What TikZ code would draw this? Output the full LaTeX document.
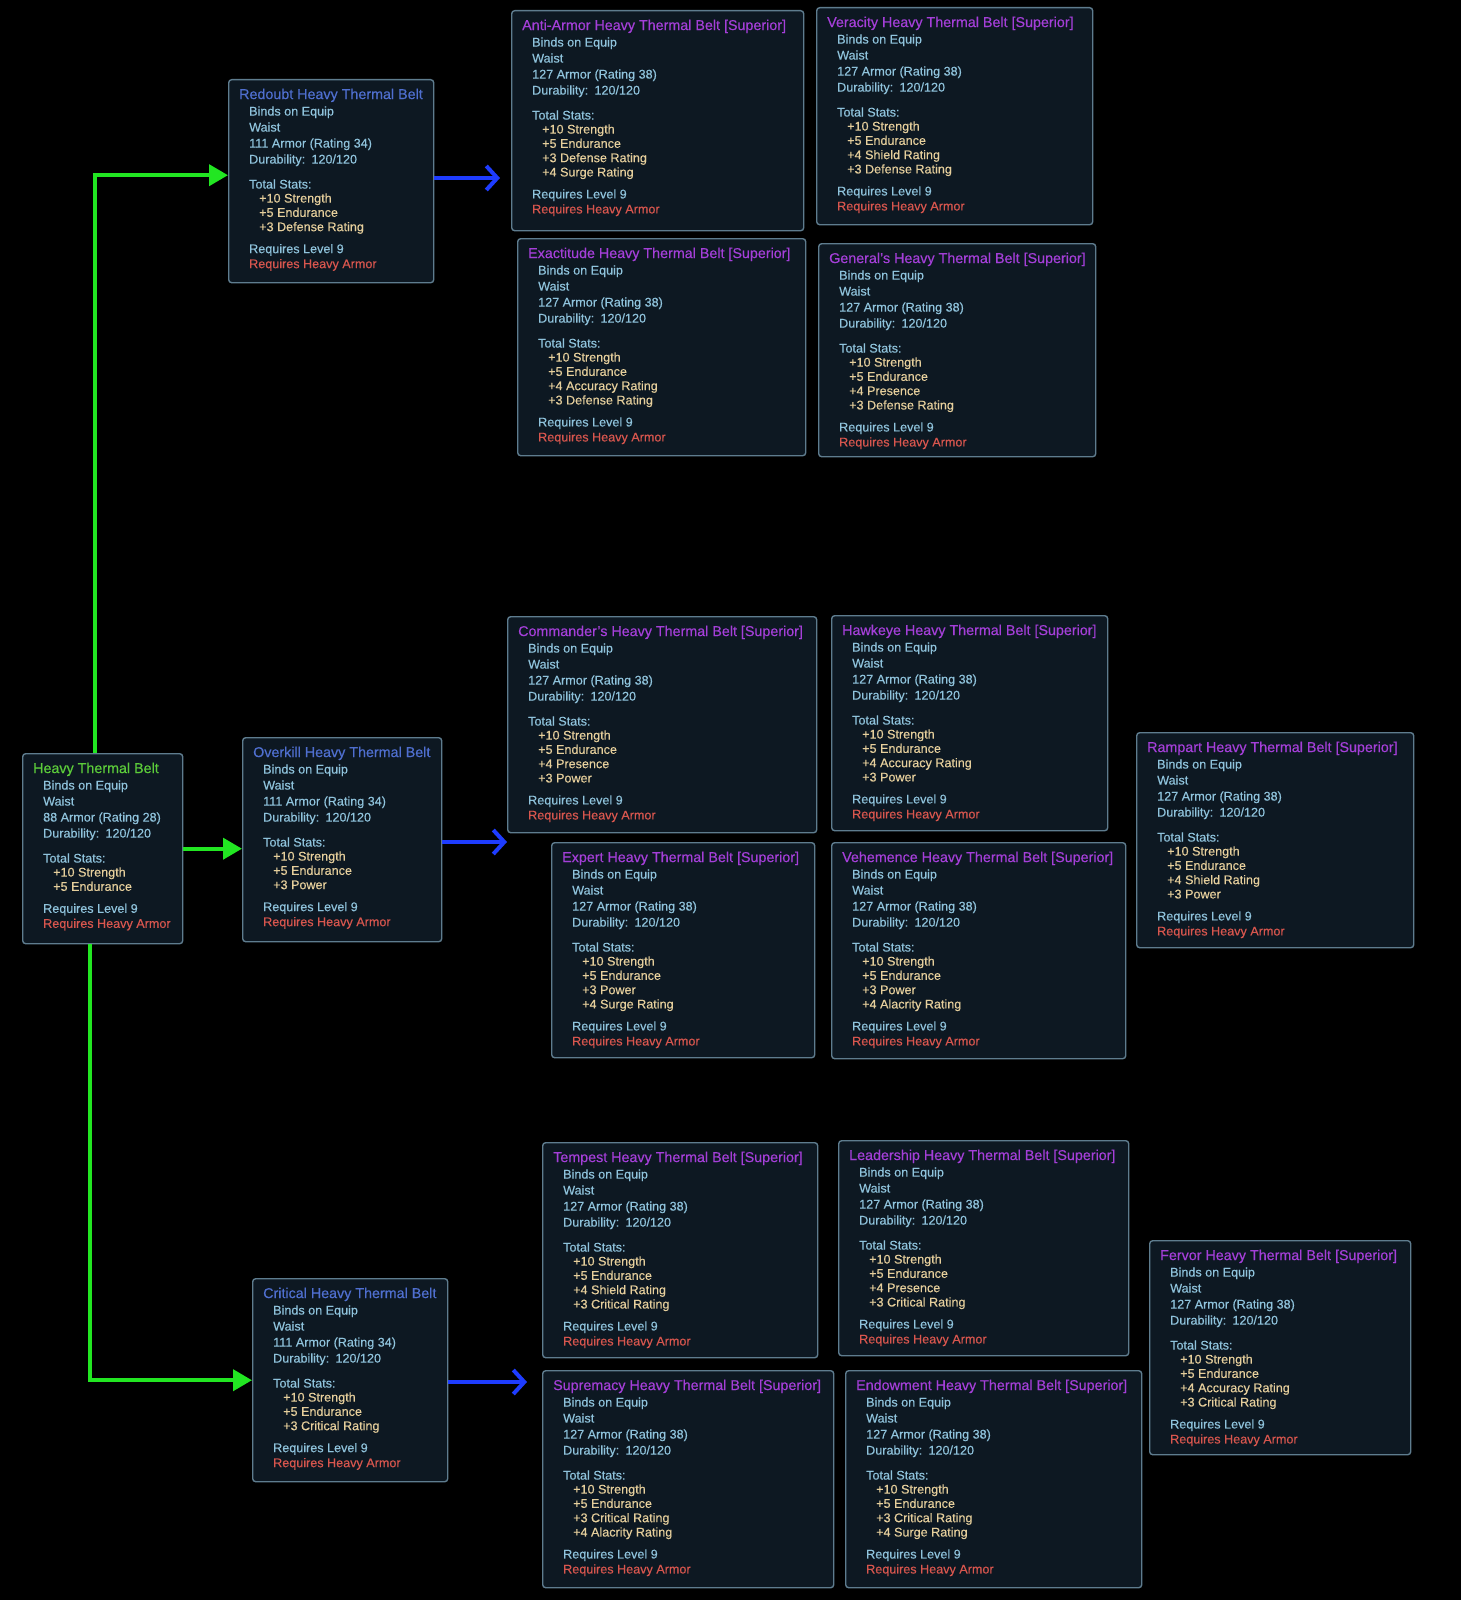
\documentclass[tikz,border=0pt]{standalone}
\usepackage{fontspec}
\setmainfont{Liberation Sans}[FakeBold=0.35]
\usetikzlibrary{arrows.meta,calc}
\definecolor{boxfill}{HTML}{0D1822}
\definecolor{boxborder}{HTML}{5E7C8E}
\definecolor{titlegreen}{HTML}{5CCC3A}
\definecolor{titleblue}{HTML}{4F6FCF}
\definecolor{titlepurple}{HTML}{A43FD8}
\definecolor{bodyc}{HTML}{8FC3DC}
\definecolor{statc}{HTML}{E6CF9C}
\definecolor{reqc}{HTML}{D8564E}
\definecolor{greenarrow}{HTML}{22E622}
\definecolor{bluearrow}{HTML}{1E3CFF}
\tikzset{
  beltbg/.style={draw=boxborder, fill=boxfill, line width=1.4pt, rounded corners=3pt, inner sep=0pt, anchor=north west},
  belttext/.style={anchor=north west, align=left, inner sep=0pt, font=\fontsize{12.6}{15}\selectfont, text=bodyc},
  garrow/.style={draw=greenarrow, line width=4pt, line join=miter, -{Triangle[length=19pt,width=21pt]}},
  barrow/.style={draw=bluearrow, line width=4pt, -{Straight Barb[length=11pt,width=24pt,line width=4pt]}}
}
\newcommand\st[1]{\hspace*{20pt}{\color{statc}#1}}
\newcommand\statbr{\\[-0.7pt]}
\newcommand\beltbox[9]{%
  \node[beltbg, minimum width=#4pt, minimum height=#5pt] (#1) at (#2,#3) {};
  \node[belttext] (#1-txt) at ($(#1.north west)+(11,9.5)$) {%
    {\fontsize{14.3}{15}\selectfont\color{#6}#7}\\[1.5pt]
    \hspace*{10pt}Binds on Equip\\[1pt]
    \hspace*{10pt}Waist\\[1pt]
    \hspace*{10pt}#8\\[1pt]
    \hspace*{10pt}Durability:\enspace 120/120\\[10pt]
    \hspace*{10pt}Total Stats:\\[-1pt]
    #9\\[7pt]
    \hspace*{10pt}Requires Level 9\\
    \hspace*{10pt}{\color{reqc}Requires Heavy Armor}};
}
\begin{document}
\begin{tikzpicture}[x=1pt,y=-1pt]
\fill[black] (0,0) rectangle (1461,1600);
\useasboundingbox (0,0) rectangle (1461,1600);

% base item
\beltbox{heavy}{22}{753}{160}{190}{titlegreen}{Heavy Thermal Belt}{88 Armor (Rating 28)}{\st{+10 Strength}\statbr\st{+5 Endurance}}

% prototype items
\beltbox{redoubt}{228}{79}{205}{203}{titleblue}{Redoubt Heavy Thermal Belt}{111 Armor (Rating 34)}{\st{+10 Strength}\statbr\st{+5 Endurance}\statbr\st{+3 Defense Rating}}
\beltbox{overkill}{242}{737}{199}{204}{titleblue}{Overkill Heavy Thermal Belt}{111 Armor (Rating 34)}{\st{+10 Strength}\statbr\st{+5 Endurance}\statbr\st{+3 Power}}
\beltbox{critical}{252}{1278}{195}{203}{titleblue}{Critical Heavy Thermal Belt}{111 Armor (Rating 34)}{\st{+10 Strength}\statbr\st{+5 Endurance}\statbr\st{+3 Critical Rating}}

% superior items - top group
\beltbox{antiarmor}{511}{10}{292}{220}{titlepurple}{Anti-Armor Heavy Thermal Belt [Superior]}{127 Armor (Rating 38)}{\st{+10 Strength}\statbr\st{+5 Endurance}\statbr\st{+3 Defense Rating}\statbr\st{+4 Surge Rating}}
\beltbox{veracity}{816}{7}{276}{217}{titlepurple}{Veracity Heavy Thermal Belt [Superior]}{127 Armor (Rating 38)}{\st{+10 Strength}\statbr\st{+5 Endurance}\statbr\st{+4 Shield Rating}\statbr\st{+3 Defense Rating}}
\beltbox{exactitude}{517}{238}{288}{217}{titlepurple}{Exactitude Heavy Thermal Belt [Superior]}{127 Armor (Rating 38)}{\st{+10 Strength}\statbr\st{+5 Endurance}\statbr\st{+4 Accuracy Rating}\statbr\st{+3 Defense Rating}}
\beltbox{generals}{818}{243}{277}{213}{titlepurple}{General's Heavy Thermal Belt [Superior]}{127 Armor (Rating 38)}{\st{+10 Strength}\statbr\st{+5 Endurance}\statbr\st{+4 Presence}\statbr\st{+3 Defense Rating}}

% superior items - middle group
\beltbox{commanders}{507}{616}{309}{216}{titlepurple}{Commander's Heavy Thermal Belt [Superior]}{127 Armor (Rating 38)}{\st{+10 Strength}\statbr\st{+5 Endurance}\statbr\st{+4 Presence}\statbr\st{+3 Power}}
\beltbox{hawkeye}{831}{615}{276}{215}{titlepurple}{Hawkeye Heavy Thermal Belt [Superior]}{127 Armor (Rating 38)}{\st{+10 Strength}\statbr\st{+5 Endurance}\statbr\st{+4 Accuracy Rating}\statbr\st{+3 Power}}
\beltbox{rampart}{1136}{732}{277}{215}{titlepurple}{Rampart Heavy Thermal Belt [Superior]}{127 Armor (Rating 38)}{\st{+10 Strength}\statbr\st{+5 Endurance}\statbr\st{+4 Shield Rating}\statbr\st{+3 Power}}
\beltbox{expert}{551}{842}{263}{215}{titlepurple}{Expert Heavy Thermal Belt [Superior]}{127 Armor (Rating 38)}{\st{+10 Strength}\statbr\st{+5 Endurance}\statbr\st{+3 Power}\statbr\st{+4 Surge Rating}}
\beltbox{vehemence}{831}{842}{294}{216}{titlepurple}{Vehemence Heavy Thermal Belt [Superior]}{127 Armor (Rating 38)}{\st{+10 Strength}\statbr\st{+5 Endurance}\statbr\st{+3 Power}\statbr\st{+4 Alacrity Rating}}

% superior items - bottom group
\beltbox{tempest}{542}{1142}{275}{215}{titlepurple}{Tempest Heavy Thermal Belt [Superior]}{127 Armor (Rating 38)}{\st{+10 Strength}\statbr\st{+5 Endurance}\statbr\st{+4 Shield Rating}\statbr\st{+3 Critical Rating}}
\beltbox{leadership}{838}{1140}{290}{215}{titlepurple}{Leadership Heavy Thermal Belt [Superior]}{127 Armor (Rating 38)}{\st{+10 Strength}\statbr\st{+5 Endurance}\statbr\st{+4 Presence}\statbr\st{+3 Critical Rating}}
\beltbox{fervor}{1149}{1240}{261}{214}{titlepurple}{Fervor Heavy Thermal Belt [Superior]}{127 Armor (Rating 38)}{\st{+10 Strength}\statbr\st{+5 Endurance}\statbr\st{+4 Accuracy Rating}\statbr\st{+3 Critical Rating}}
\beltbox{supremacy}{542}{1370}{291}{217}{titlepurple}{Supremacy Heavy Thermal Belt [Superior]}{127 Armor (Rating 38)}{\st{+10 Strength}\statbr\st{+5 Endurance}\statbr\st{+3 Critical Rating}\statbr\st{+4 Alacrity Rating}}
\beltbox{endowment}{845}{1370}{296}{217}{titlepurple}{Endowment Heavy Thermal Belt [Superior]}{127 Armor (Rating 38)}{\st{+10 Strength}\statbr\st{+5 Endurance}\statbr\st{+3 Critical Rating}\statbr\st{+4 Surge Rating}}

% green connectors
\draw[garrow] ([xshift=-8pt]heavy.north) |- ([yshift=6pt]redoubt.west);
\draw[garrow] (heavy.east) -- (heavy.east -| overkill.west);
\draw[garrow] ([xshift=-13pt]heavy.south) |- (critical.west);

% blue connectors
\coordinate (t1) at (500,178);
\coordinate (t2) at (507,842);
\coordinate (t3) at (527,1382);
\draw[barrow] (redoubt.east |- t1) -- (t1);
\draw[barrow] (overkill.east |- t2) -- (t2);
\draw[barrow] (critical.east |- t3) -- (t3);
\end{tikzpicture}
\end{document}
